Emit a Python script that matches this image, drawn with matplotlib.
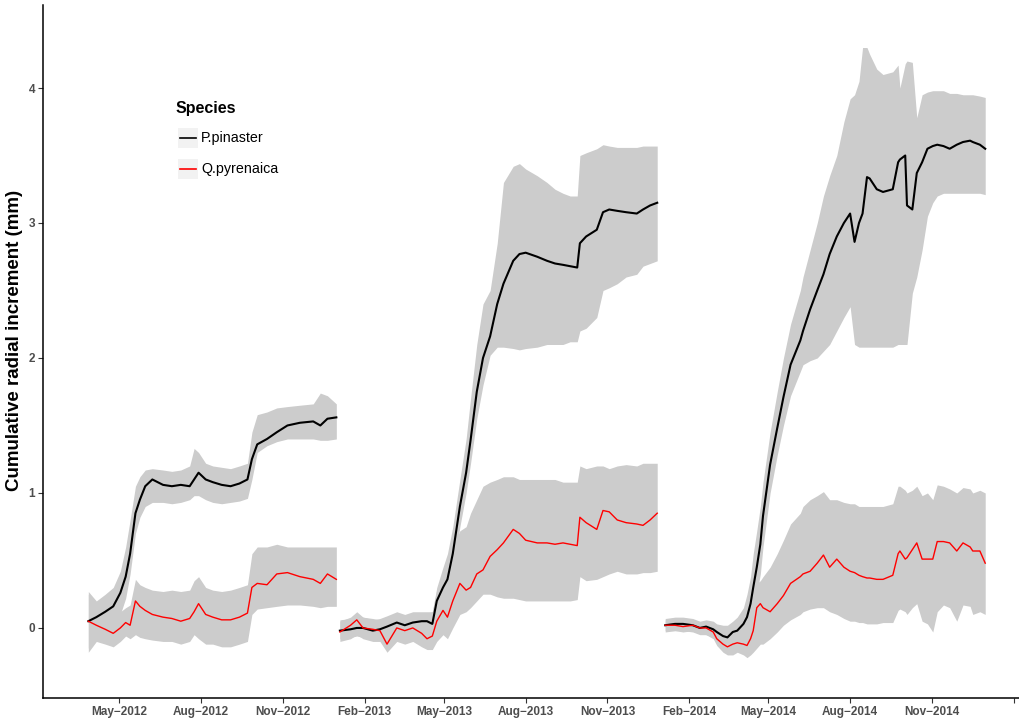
import numpy as np
import matplotlib
matplotlib.use("Agg")
import matplotlib.pyplot as plt
from matplotlib.patches import Rectangle
from matplotlib.lines import Line2D

plt.rcParams["font.family"] = ["Liberation Sans", "DejaVu Sans"]

# Dendrometer campaigns: days after 1 January of each year,
# mean cumulative radial increment (mm) and the band around it per species.

days_2012 = [86, 95, 105, 114, 122, 128, 133, 139, 144, 150, 158, 170, 180, 190, 200, 205, 210,
             218, 226, 236, 246, 256, 265, 270, 276, 287, 298, 310, 324, 339, 347, 355, 365]
pin_2012 = [0.05, 0.08, 0.12, 0.16, 0.26, 0.38, 0.55, 0.85, 0.95, 1.05, 1.10, 1.06, 1.05, 1.06, 1.05, 1.10, 1.15,
            1.10, 1.08, 1.06, 1.05, 1.07, 1.10, 1.25, 1.36, 1.40, 1.45, 1.50, 1.52, 1.53, 1.50, 1.55, 1.56]
pin_lo_2012 = [-0.15, -0.05, -0.03, 0.02, 0.10, 0.22, 0.40, 0.70, 0.82, 0.90, 0.93, 0.93, 0.92, 0.93, 0.95, 0.98, 0.98,
               0.95, 0.93, 0.92, 0.93, 0.94, 0.96, 1.10, 1.30, 1.35, 1.38, 1.40, 1.40, 1.40, 1.39, 1.39, 1.40]
pin_hi_2012 = [0.27, 0.20, 0.25, 0.30, 0.42, 0.60, 0.80, 1.05, 1.12, 1.17, 1.18, 1.17, 1.16, 1.17, 1.20, 1.33, 1.30,
               1.22, 1.20, 1.19, 1.18, 1.20, 1.22, 1.45, 1.58, 1.60, 1.63, 1.64, 1.65, 1.66, 1.74, 1.72, 1.66]
pyr_2012 = [0.05, 0.02, -0.01, -0.04, 0.00, 0.04, 0.02, 0.20, 0.16, 0.13, 0.10, 0.08, 0.07, 0.05, 0.07, 0.12, 0.18,
            0.10, 0.08, 0.06, 0.06, 0.08, 0.11, 0.30, 0.33, 0.32, 0.40, 0.41, 0.38, 0.36, 0.33, 0.40, 0.36]
pyr_lo_2012 = [-0.18, -0.10, -0.12, -0.14, -0.10, -0.06, -0.08, -0.05, -0.07, -0.08, -0.09, -0.10, -0.10, -0.12, -0.10, -0.05, -0.08,
               -0.12, -0.12, -0.14, -0.14, -0.12, -0.10, 0.10, 0.14, 0.15, 0.16, 0.17, 0.17, 0.16, 0.15, 0.16, 0.16]
pyr_hi_2012 = [0.25, 0.15, 0.12, 0.10, 0.12, 0.15, 0.17, 0.36, 0.32, 0.30, 0.28, 0.27, 0.28, 0.27, 0.28, 0.35, 0.38,
               0.30, 0.28, 0.27, 0.28, 0.30, 0.32, 0.55, 0.60, 0.60, 0.62, 0.60, 0.60, 0.60, 0.60, 0.60, 0.60]

days_2013 = [3, 15, 22, 29, 40, 48, 56, 67, 76, 85, 95, 101, 107, 112, 119, 124, 130, 138, 145, 150, 157, 164,
             172, 180, 187, 198, 205, 212, 225, 236, 245, 254, 262, 270, 273, 280, 292, 299, 306, 315, 325, 337,
             344, 352, 360]
pin_2013 = [-0.02, -0.01, 0.00, 0.00, -0.02, -0.01, 0.01, 0.04, 0.02, 0.04, 0.05, 0.05, 0.03, 0.20, 0.30, 0.36,
            0.55, 0.90, 1.15, 1.39, 1.75, 2.00, 2.16, 2.40, 2.55, 2.72, 2.77, 2.78, 2.75, 2.72, 2.70, 2.69, 2.68,
            2.67, 2.85, 2.90, 2.95, 3.08, 3.10, 3.09, 3.08, 3.07, 3.10, 3.13, 3.15]
pin_lo_2013 = [-0.08, -0.07, -0.06, -0.07, -0.08, -0.08, -0.06, -0.04, -0.06, -0.05, -0.06, -0.07, -0.08, 0.05, 0.15,
               0.22, 0.40, 0.75, 1.00, 1.22, 1.55, 1.80, 2.02, 2.08, 2.08, 2.07, 2.06, 2.07, 2.08, 2.10, 2.10, 2.10,
               2.12, 2.12, 2.20, 2.22, 2.30, 2.50, 2.52, 2.55, 2.60, 2.62, 2.68, 2.70, 2.72]
pin_hi_2013 = [0.06, 0.07, 0.08, 0.08, 0.06, 0.07, 0.09, 0.12, 0.10, 0.12, 0.12, 0.12, 0.12, 0.30, 0.45, 0.55,
               0.75, 1.10, 1.40, 1.70, 2.10, 2.40, 2.50, 2.85, 3.30, 3.42, 3.44, 3.40, 3.35, 3.30, 3.25, 3.22, 3.20,
               3.20, 3.50, 3.52, 3.55, 3.58, 3.57, 3.56, 3.56, 3.56, 3.57, 3.57, 3.57]
pyr_2013 = [-0.03, 0.02, 0.06, 0.00, -0.01, -0.02, -0.12, 0.00, -0.02, 0.00, -0.04, -0.08, -0.06, 0.05, 0.13, 0.08,
            0.20, 0.33, 0.28, 0.30, 0.40, 0.43, 0.53, 0.58, 0.63, 0.73, 0.70, 0.65, 0.63, 0.63, 0.62, 0.63, 0.62,
            0.61, 0.82, 0.78, 0.73, 0.87, 0.86, 0.80, 0.78, 0.77, 0.76, 0.80, 0.85]
pyr_lo_2013 = [-0.10, -0.08, -0.05, -0.08, -0.10, -0.10, -0.18, -0.10, -0.12, -0.10, -0.14, -0.16, -0.16, -0.10, -0.05,
               -0.08, 0.00, 0.10, 0.12, 0.15, 0.20, 0.25, 0.25, 0.23, 0.22, 0.22, 0.21, 0.20, 0.20, 0.20, 0.20, 0.20,
               0.20, 0.21, 0.38, 0.35, 0.36, 0.38, 0.40, 0.42, 0.40, 0.40, 0.41, 0.41, 0.42]
pyr_hi_2013 = [0.05, 0.08, 0.12, 0.08, 0.07, 0.06, 0.08, 0.10, 0.09, 0.10, 0.10, 0.10, 0.12, 0.28, 0.40, 0.45,
               0.60, 0.72, 0.75, 0.85, 0.95, 1.05, 1.08, 1.10, 1.12, 1.12, 1.10, 1.10, 1.10, 1.10, 1.10, 1.08, 1.08,
               1.08, 1.20, 1.18, 1.20, 1.20, 1.18, 1.20, 1.21, 1.20, 1.22, 1.22, 1.22]

days_2014 = [4, 15, 24, 35, 43, 50, 58, 62, 69, 74, 80, 85, 92, 96, 100, 103, 107, 111, 114, 122, 130, 137, 145,
             156, 159, 167, 175, 182, 189, 197, 205, 212, 217, 222, 226, 231, 234, 242, 249, 260, 266, 268, 274,
             276, 282, 287, 293, 299, 305, 310, 317, 324, 332, 339, 347, 350, 358, 364]
pin_2014 = [0.02, 0.03, 0.03, 0.02, 0.00, 0.01, -0.01, -0.03, -0.06, -0.07, -0.03, -0.02, 0.03, 0.08, 0.18, 0.30,
            0.45, 0.62, 0.83, 1.21, 1.48, 1.71, 1.95, 2.13, 2.20, 2.36, 2.50, 2.62, 2.77, 2.90, 3.00, 3.07, 2.86,
            3.00, 3.07, 3.34, 3.33, 3.25, 3.23, 3.25, 3.45, 3.47, 3.50, 3.13, 3.10, 3.37, 3.45, 3.55, 3.57, 3.58,
            3.57, 3.55, 3.58, 3.60, 3.61, 3.60, 3.58, 3.55]
pin_lo_2014 = [-0.03, -0.02, -0.02, -0.03, -0.05, -0.05, -0.07, -0.10, -0.14, -0.16, -0.15, -0.12, -0.10, -0.05, 0.00,
               0.10, 0.25, 0.40, 0.60, 1.00, 1.28, 1.50, 1.72, 1.90, 1.95, 1.98, 2.00, 2.05, 2.10, 2.20, 2.30, 2.38,
               2.10, 2.08, 2.08, 2.08, 2.08, 2.08, 2.08, 2.08, 2.10, 2.10, 2.10, 2.10, 2.48, 2.60, 2.80, 3.05, 3.15,
               3.20, 3.22, 3.22, 3.22, 3.22, 3.22, 3.22, 3.22, 3.21]
pin_hi_2014 = [0.07, 0.08, 0.08, 0.07, 0.05, 0.06, 0.05, 0.03, 0.02, 0.02, 0.05, 0.08, 0.15, 0.25, 0.38, 0.55,
               0.72, 0.90, 1.08, 1.45, 1.75, 2.00, 2.25, 2.50, 2.60, 2.80, 3.00, 3.20, 3.35, 3.50, 3.75, 3.92, 3.95,
               4.05, 4.30, 4.30, 4.25, 4.14, 4.10, 4.12, 4.17, 4.00, 4.18, 4.20, 4.19, 3.78, 3.95, 3.97, 3.98, 3.98,
               3.98, 3.96, 3.96, 3.95, 3.95, 3.95, 3.94, 3.93]
pyr_2014 = [0.02, 0.02, 0.01, 0.02, 0.00, 0.00, -0.03, -0.08, -0.12, -0.14, -0.12, -0.11, -0.12, -0.13, -0.08, -0.02,
            0.15, 0.18, 0.15, 0.12, 0.18, 0.24, 0.33, 0.38, 0.40, 0.42, 0.48, 0.54, 0.45, 0.51, 0.45, 0.42, 0.41,
            0.39, 0.38, 0.37, 0.37, 0.36, 0.36, 0.39, 0.55, 0.57, 0.51, 0.52, 0.58, 0.63, 0.51, 0.51, 0.51, 0.64,
            0.64, 0.63, 0.57, 0.63, 0.60, 0.57, 0.57, 0.48]
pyr_lo_2014 = [-0.02, -0.02, -0.03, -0.02, -0.04, -0.05, -0.08, -0.13, -0.18, -0.20, -0.20, -0.18, -0.20, -0.22, -0.20,
               -0.18, -0.15, -0.12, -0.12, -0.08, -0.03, 0.02, 0.06, 0.10, 0.12, 0.14, 0.15, 0.15, 0.12, 0.10, 0.07,
               0.05, 0.05, 0.04, 0.04, 0.03, 0.03, 0.03, 0.04, 0.04, 0.13, 0.14, 0.12, 0.10, 0.15, 0.18, 0.05, 0.03,
               -0.03, 0.12, 0.17, 0.15, 0.05, 0.17, 0.16, 0.10, 0.12, 0.10]
pyr_hi_2014 = [0.06, 0.06, 0.05, 0.06, 0.04, 0.04, 0.02, 0.00, -0.04, -0.06, -0.04, -0.02, -0.03, -0.02, 0.05, 0.15,
               0.33, 0.35, 0.38, 0.45, 0.55, 0.65, 0.77, 0.85, 0.90, 0.95, 0.98, 1.01, 0.95, 0.95, 0.93, 0.92, 0.92,
               0.90, 0.90, 0.90, 0.90, 0.90, 0.90, 0.92, 1.05, 1.05, 1.02, 1.00, 1.02, 1.05, 0.98, 1.00, 0.95, 1.06,
               1.05, 1.03, 1.00, 1.04, 1.03, 1.00, 1.02, 1.00]

species = ["P.pinaster", "Q.pyrenaica"]
colours = {"P.pinaster": "black", "Q.pyrenaica": "#ff0000"}

seasons = [
    (2012, days_2012, (pin_2012, pin_lo_2012, pin_hi_2012), (pyr_2012, pyr_lo_2012, pyr_hi_2012)),
    (2013, days_2013, (pin_2013, pin_lo_2013, pin_hi_2013), (pyr_2013, pyr_lo_2013, pyr_hi_2013)),
    (2014, days_2014, (pin_2014, pin_lo_2014, pin_hi_2014), (pyr_2014, pyr_lo_2014, pyr_hi_2014)),
]

W, H = 1019, 718
fig = plt.figure(figsize=(W / 100, H / 100), dpi=100)
ax = fig.add_axes([43 / W, 20 / H, (W - 43) / W, 693 / H])

# ribbons first, lines on top
curves = []
for year, days, pin, pyr in seasons:
    t = np.datetime64(f"{year}-01-01") + np.array(days).astype("timedelta64[D]")
    for name, (mean, lo, hi) in zip(species, [pin, pyr]):
        ax.fill_between(t, lo, hi, color="#cccccc", lw=0, zorder=1)
        curves.append((t, mean, name))
for t, mean, name in curves:
    lw = 1.5 if name == "P.pinaster" else 1.0
    ax.plot(t, mean, color=colours[name], lw=lw, zorder=3)

ax.set_xlim(np.datetime64("2012-02-05"), np.datetime64("2015-02-07"))
ax.set_ylim(-0.519, 4.615)

tick_dates = [np.datetime64(f"{y}-{m:02d}-01") for y in (2012, 2013, 2014, 2015)
              for m in (2, 5, 8, 11)]
tick_dates = [d for d in tick_dates if np.datetime64("2012-05-01") <= d <= np.datetime64("2015-02-01")]
tick_labels = [d.astype(object).strftime("%b\u2212%Y") for d in tick_dates]
tick_labels[-1] = ""
ax.set_xticks(tick_dates)
ax.set_xticklabels(tick_labels)
ax.set_yticks([0, 1, 2, 3, 4])

for s in ["top", "right"]:
    ax.spines[s].set_visible(False)
for s in ["left", "bottom"]:
    ax.spines[s].set_linewidth(1.1)
    ax.spines[s].set_color("black")
ax.tick_params(length=3.5, width=0.8, color="#333333", labelsize=8.5,
               labelcolor="#4d4d4d", pad=2)
for lab in ax.get_xticklabels() + ax.get_yticklabels():
    lab.set_fontweight("bold")

fig.text(15 / W, 1 - 340 / H, "Cumulative radial increment (mm)", rotation=90,
         ha="center", va="center", fontsize=13.5, fontweight="bold")

# legend drawn by hand, keys with the light grey background
fig.text(176 / W, 1 - 108 / H, "Species", ha="left", va="center",
         fontsize=11.5, fontweight="bold")
for i, name in enumerate(species):
    yc = 138 + 31 * i
    fig.add_artist(Rectangle((178 / W, 1 - (yc + 10) / H), 20 / W, 20 / H,
                             transform=fig.transFigure, color="#f2f2f2", lw=0))
    fig.add_artist(Line2D([180 / W, 196 / W], [1 - yc / H, 1 - yc / H],
                          transform=fig.transFigure, color=colours[name], lw=1.2))
    fig.text(201 / W, 1 - yc / H, name, ha="left", va="center", fontsize=10.3)

fig.savefig("out.png", dpi=100)
